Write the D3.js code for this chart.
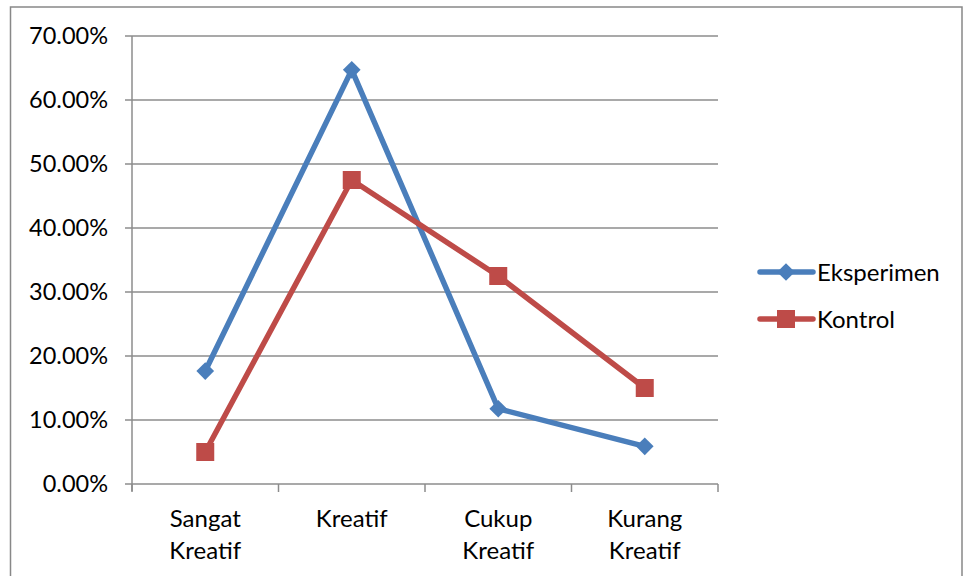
<!DOCTYPE html>
<html><head><meta charset="utf-8">
<script src="https://cdn.jsdelivr.net/npm/d3@7"></script>
<style>body{margin:0;background:#fff}svg{display:block}text{font-family:Lato,"Open Sans",sans-serif;fill:#000}</style>
</head><body>
<svg id="c" width="963" height="576"></svg>
<script>
const categories = [["Sangat","Kreatif"],["Kreatif"],["Cukup","Kreatif"],["Kurang","Kreatif"]];
const seriesNames = ["Eksperimen","Kontrol"];
const eksperimen = [17.65, 64.71, 11.76, 5.88];
const kontrol = [5.0, 47.5, 32.5, 15.0];
const yTicks = [0,10,20,30,40,50,60,70];
const colors = ["#4a7ebb","#be4b48"];

(function(){
const svg = d3.select("#c");
const pL = 132, pR = 718, pT = 36, pB = 484;
const x = d3.scaleBand().domain(d3.range(categories.length)).range([pL,pR]);
const y = d3.scaleLinear().domain([0,70]).range([pB,pT]);

// outer border
svg.append("path").attr("d","M10.5,600 V7 H962 V600").attr("fill","none").attr("stroke","#888").attr("stroke-width",1.5);

// gridlines
svg.append("g").selectAll("line").data(yTicks).join("line")
  .attr("x1",pL-7).attr("x2",pR).attr("y1",d=>y(d)).attr("y2",d=>y(d))
  .attr("stroke","#8c8c8c").attr("stroke-width",1.5);
// y axis
svg.append("line").attr("x1",pL).attr("x2",pL).attr("y1",pT).attr("y2",pB+7).attr("stroke","#8c8c8c").attr("stroke-width",1.5);
// x ticks
const xt = d3.range(categories.length+1).map(i=> i<categories.length ? x(i) : pR);
svg.append("g").selectAll("line").data(xt).join("line")
  .attr("x1",d=>d).attr("x2",d=>d).attr("y1",pB).attr("y2",pB+8)
  .attr("stroke","#8c8c8c").attr("stroke-width",1.5);

// y labels
svg.append("g").selectAll("text").data(yTicks).join("text")
  .attr("x",108).attr("y",d=>y(d)).attr("dy","0.36em").attr("text-anchor","end")
  .attr("font-size",23.5).text(d=>d.toFixed(2)+"%");

// x labels
const xl = svg.append("g").selectAll("text").data(categories).join("text")
  .attr("text-anchor","middle").attr("font-size",24)
  .attr("transform",(d,i)=>`translate(${x(i)+x.bandwidth()/2},527)`);
xl.selectAll("tspan").data(d=>d).join("tspan").attr("x",0).attr("y",(d,i)=>i*32).text(d=>d);

const data = [eksperimen, kontrol];
const line = d3.line().x((d,i)=>x(i)+x.bandwidth()/2).y(d=>y(d));
const diamond = d3.symbol().type(d3.symbolDiamond2).size(200);
function marker(g, si, cx, cy){
  if(si===0){
    g.append("path").attr("d",diamond()).attr("transform",`translate(${cx},${cy})`).attr("fill",colors[0]);
  } else {
    g.append("rect").attr("x",cx-9).attr("y",cy-9).attr("width",18).attr("height",18).attr("fill",colors[1]);
  }
}
data.forEach((vals,si)=>{
  const g = svg.append("g");
  g.append("path").datum(vals).attr("d",line).attr("fill","none").attr("stroke",colors[si]).attr("stroke-width",5.5).attr("stroke-linejoin","round");
  vals.forEach((v,i)=>marker(g,si,x(i)+x.bandwidth()/2,y(v)));
});

// legend
seriesNames.forEach((n,si)=>{
  const ly = 272 + si*47;
  const g = svg.append("g");
  g.append("line").attr("x1",760).attr("x2",813).attr("y1",ly).attr("y2",ly).attr("stroke",colors[si]).attr("stroke-width",5.5).attr("stroke-linecap","round");
  marker(g,si,786,ly);
  g.append("text").attr("x",817).attr("y",ly).attr("dy","0.36em").attr("font-size",24).text(n);
});
})();
</script>
</body></html>
